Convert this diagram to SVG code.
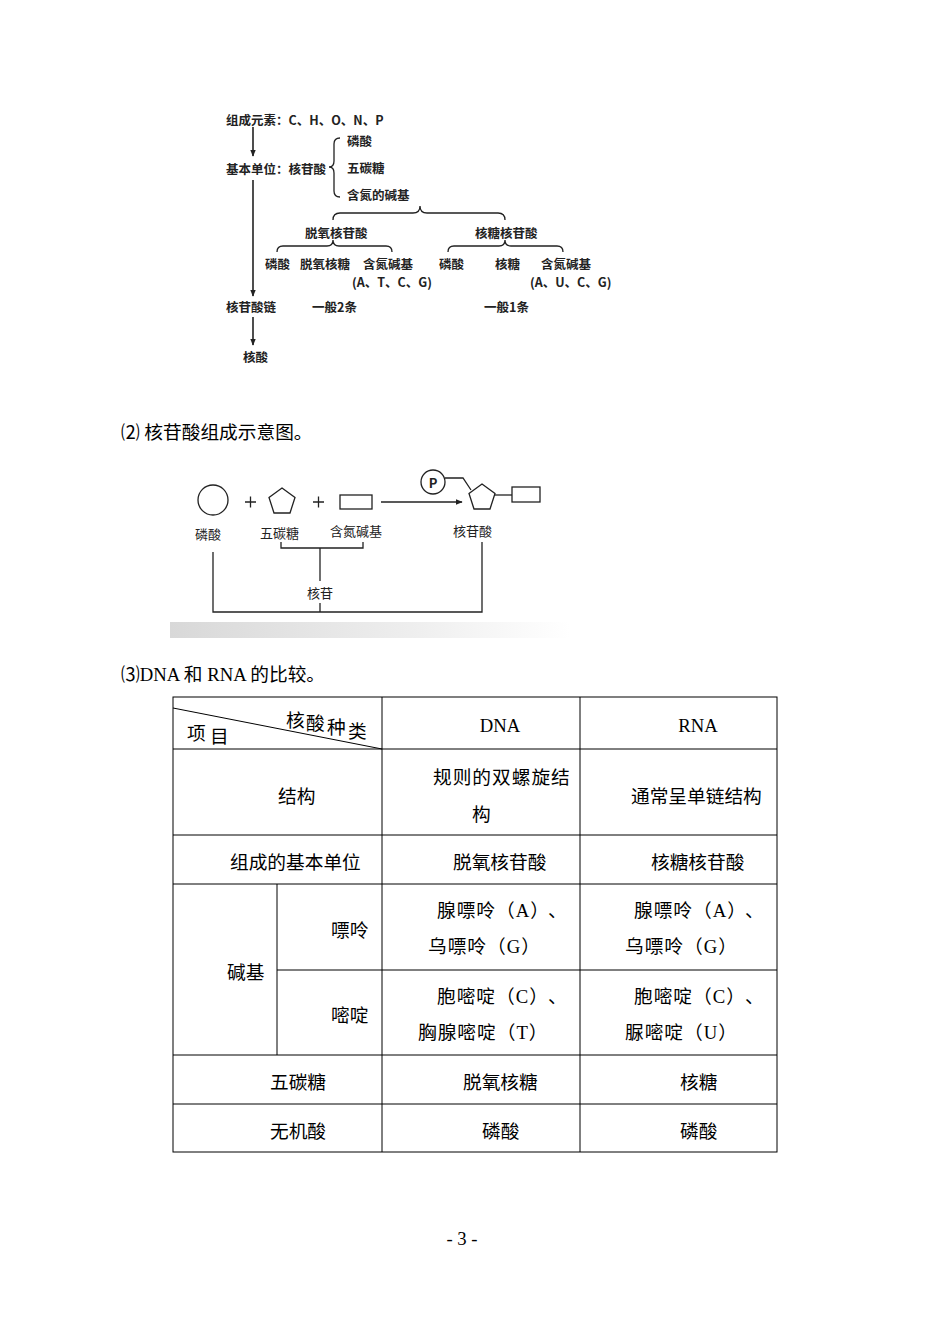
<svg xmlns="http://www.w3.org/2000/svg" width="950" height="1342" viewBox="0 0 950 1342">
<defs>
<style>
.scan{font-family:"Noto Sans CJK SC","Liberation Sans",sans-serif;font-size:12.5px;font-weight:bold;fill:#222;dominant-baseline:central}
.hand{font-family:"Noto Sans CJK SC","Liberation Sans",sans-serif;font-size:13px;fill:#222;dominant-baseline:central}
.cap{font-family:"Liberation Serif","Noto Sans CJK SC",serif;font-size:18.7px;fill:#000;dominant-baseline:central}
.t{font-family:"Liberation Serif","Noto Sans CJK SC",serif;font-size:18.7px;fill:#000;dominant-baseline:central}
.ls{letter-spacing:1px}
.ln{fill:none;stroke:#222;stroke-width:1.6}
.thin{fill:none;stroke:#222;stroke-width:1.3}
.grid{fill:none;stroke:#000;stroke-width:1}
</style>
<marker id="ah" viewBox="0 0 10 10" refX="9" refY="5" markerWidth="7" markerHeight="7" orient="auto" markerUnits="userSpaceOnUse">
<path d="M0,1 L10,5 L0,9 Z" fill="#222"/>
</marker>
<linearGradient id="fade" x1="0" y1="0" x2="1" y2="0">
<stop offset="0" stop-color="#d8d8d8"/>
<stop offset="0.6" stop-color="#eeeeee"/>
<stop offset="1" stop-color="#ffffff"/>
</linearGradient>
</defs>

<!-- Diagram 1: composition of nucleic acids -->
<g id="d1-connectors">
<line class="ln" x1="253" y1="127" x2="253" y2="156" marker-end="url(#ah)"/>
<line class="ln" x1="253" y1="180" x2="253" y2="296" marker-end="url(#ah)"/>
<line class="ln" x1="253" y1="317" x2="253" y2="345" marker-end="url(#ah)"/>
<path class="thin" d="M340,138 Q334,138 334,144 L334,161 Q334,167 329,167 Q334,167 334,173 L334,191 Q334,197 340,197"/>
<path class="thin" d="M333,220 Q333,213 340,213 L413,213 Q420,213 420,206 Q420,213 427,213 L498,213 Q505,213 505,220"/>
<path class="thin" d="M277,252 Q277,246 283,246 L327,246 Q333,246 333,240 Q333,246 339,246 L386,246 Q392,246 392,252"/>
<path class="thin" d="M448,252 Q448,246 454,246 L499,246 Q505,246 505,240 Q505,246 511,246 L557,246 Q563,246 563,252"/>
</g>
<g id="d1-elements"><text class="scan" x="226" y="119">组成元素：C、H、O、N、P</text></g>
<g id="d1-unit"><text class="scan" x="226" y="168">基本单位：核苷酸</text></g>
<g id="d1-parts">
<text class="scan" x="347" y="140">磷酸</text>
<text class="scan" x="347" y="167">五碳糖</text>
<text class="scan" x="347" y="194">含氮的碱基</text>
</g>
<g id="d1-deoxy">
<text class="scan" x="305" y="232">脱氧核苷酸</text>
<text class="scan" x="265" y="263">磷酸</text>
<text class="scan" x="300" y="263">脱氧核糖</text>
<text class="scan" x="363" y="263">含氮碱基</text>
<text class="scan" x="352" y="281">(A、T、C、G)</text>
<text class="scan" x="312" y="306">一般2条</text>
</g>
<g id="d1-ribo">
<text class="scan" x="475" y="232">核糖核苷酸</text>
<text class="scan" x="439" y="263">磷酸</text>
<text class="scan" x="495" y="263">核糖</text>
<text class="scan" x="541" y="263">含氮碱基</text>
<text class="scan" x="530" y="281">(A、U、C、G)</text>
<text class="scan" x="484" y="306">一般1条</text>
</g>
<g id="d1-chain"><text class="scan" x="226" y="306">核苷酸链</text></g>
<g id="d1-na"><text class="scan" x="243" y="356">核酸</text></g>

<!-- Caption 2 -->
<text class="cap" x="121" y="432">⑵ 核苷酸组成示意图。</text>

<!-- Diagram 2 -->
<rect x="170" y="622" width="400" height="16" fill="url(#fade)"/>
<g id="d2-connectors">
<line class="thin" x1="381" y1="502" x2="462" y2="502" marker-end="url(#ah)"/>
<polyline class="thin" points="445,478 463,478 471,490"/>
<line class="thin" x1="495" y1="495" x2="512" y2="495"/>
<path class="thin" d="M281,542 L281,548 L363,548 L363,542"/>
<line class="thin" x1="320" y1="548" x2="320" y2="581"/>
<path class="thin" d="M213,552 L213,612 L482,612 L482,542"/>
<line class="thin" x1="320" y1="603" x2="320" y2="612"/>
</g>
<g id="d2-phosphate">
<circle class="thin" cx="213" cy="500" r="15"/>
<text class="hand" x="195" y="533">磷酸</text>
</g>
<g id="d2-plus1"><path class="thin" d="M245,502 H256 M250.5,496.5 V507.5"/></g>
<g id="d2-sugar">
<polygon class="thin" points="282,488 295,497.5 290,513 274,513 269,497.5"/>
<text class="hand" x="260" y="532">五碳糖</text>
</g>
<g id="d2-plus2"><path class="thin" d="M313,502 H324 M318.5,496.5 V507.5"/></g>
<g id="d2-base">
<rect class="thin" x="340" y="495" width="32" height="14"/>
<text class="hand" x="330" y="530">含氮碱基</text>
</g>
<g id="d2-nucleoside"><text class="hand" x="307" y="592">核苷</text></g>
<g id="d2-nucleotide">
<circle class="thin" cx="433" cy="482" r="12"/>
<text class="hand" x="433" y="482" font-size="11" font-weight="bold" text-anchor="middle">P</text>
<polygon class="thin" points="482,484 495,493.5 490,509 474,509 469,493.5"/>
<rect class="thin" x="512" y="487" width="28" height="15"/>
<text class="hand" x="453" y="530">核苷酸</text>
</g>

<!-- Caption 3 -->
<text class="cap" x="121" y="674">⑶DNA 和 RNA 的比较。</text>

<!-- Table -->
<g id="table-grid">
<rect class="grid" x="173" y="697" width="604" height="455"/>
<line class="grid" x1="382" y1="697" x2="382" y2="1152"/>
<line class="grid" x1="580" y1="697" x2="580" y2="1152"/>
<line class="grid" x1="277" y1="884" x2="277" y2="1055"/>
<line class="grid" x1="173" y1="749" x2="777" y2="749"/>
<line class="grid" x1="173" y1="835" x2="777" y2="835"/>
<line class="grid" x1="173" y1="884" x2="777" y2="884"/>
<line class="grid" x1="277" y1="970" x2="777" y2="970"/>
<line class="grid" x1="173" y1="1055" x2="777" y2="1055"/>
<line class="grid" x1="173" y1="1104" x2="777" y2="1104"/>
<line class="grid" x1="173" y1="708" x2="382" y2="749"/>
</g>
<g id="table-header">
<text class="t" x="187" y="733">项</text>
<text class="t" x="210" y="736">目</text>
<text class="t" x="286" y="720">核</text>
<text class="t" x="306" y="723">酸</text>
<text class="t" x="327" y="727">种</text>
<text class="t" x="348" y="731">类</text>
<text class="t" x="500" y="725" text-anchor="middle">DNA</text>
<text class="t" x="698" y="725" text-anchor="middle">RNA</text>
</g>
<g id="row-structure">
<text class="t" x="278" y="796">结构</text>
<text class="t ls" x="433" y="777">规则的双螺旋结</text>
<text class="t" x="472" y="814">构</text>
<text class="t" x="631" y="796">通常呈单链结构</text>
</g>
<g id="row-unit">
<text class="t" x="230" y="862">组成的基本单位</text>
<text class="t" x="453" y="862">脱氧核苷酸</text>
<text class="t" x="651" y="862">核糖核苷酸</text>
</g>
<g id="row-base">
<text class="t" x="227" y="972">碱基</text>
<text class="t" x="331" y="930">嘌呤</text>
<text class="t ls" x="437" y="910">腺嘌呤（A）<tspan x="548">、</tspan></text>
<text class="t ls" x="428" y="946">乌嘌呤（G）</text>
<text class="t ls" x="634" y="910">腺嘌呤（A）<tspan x="745">、</tspan></text>
<text class="t ls" x="625" y="946">乌嘌呤（G）</text>
<text class="t" x="331" y="1015">嘧啶</text>
<text class="t ls" x="437" y="996">胞嘧啶（C）<tspan x="548">、</tspan></text>
<text class="t ls" x="418" y="1032">胸腺嘧啶（T）</text>
<text class="t ls" x="634" y="996">胞嘧啶（C）<tspan x="745">、</tspan></text>
<text class="t ls" x="625" y="1032">脲嘧啶（U）</text>
</g>
<g id="row-sugar">
<text class="t" x="270" y="1082">五碳糖</text>
<text class="t" x="463" y="1082">脱氧核糖</text>
<text class="t" x="680" y="1082">核糖</text>
</g>
<g id="row-acid">
<text class="t" x="270" y="1131">无机酸</text>
<text class="t" x="482" y="1131">磷酸</text>
<text class="t" x="680" y="1131">磷酸</text>
</g>
<text class="cap" x="462" y="1238" text-anchor="middle" font-size="16">- 3 -</text>
</svg>
